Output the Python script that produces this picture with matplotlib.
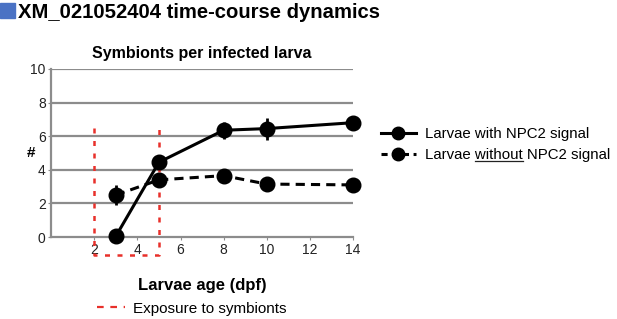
import matplotlib.pyplot as plt
from matplotlib.lines import Line2D
from matplotlib.patches import Rectangle

plt.rcParams['font.family'] = ['Liberation Sans', 'DejaVu Sans']

age = [3, 5, 8, 10, 14]
with_npc2 = [0.05, 4.45, 6.35, 6.45, 6.8]
with_err = [0.15, 0.2, 0.5, 0.65, 0.2]
without_npc2 = [2.5, 3.4, 3.65, 3.15, 3.1]
without_err = [0.6, 0.2, 0.2, 0.2, 0.4]
exposure_x = [2, 2, 5, 5]
exposure_y = [6.5, -1.07, -1.07, 6.5]
xticks = [2, 4, 6, 8, 10, 12, 14]
yticks = [0, 2, 4, 6, 8, 10]

fig = plt.figure(figsize=(6.17, 3.19), dpi=100)
ax = fig.add_axes([0.083, 0.257, 0.489, 0.527])

for y in yticks[1:]:
    ax.axhline(y, color='#8c8c8c', lw=1.6, zorder=1)

ax.plot(exposure_x, exposure_y, color='#e8302a', lw=1.8, ls=(0, (2, 3)),
        clip_on=False, zorder=2)

ax.errorbar(age, with_npc2, yerr=with_err, color='black', lw=2.2, marker='o',
            ms=10.5, elinewidth=2, capsize=0, zorder=4, clip_on=False)
ax.errorbar(age, without_npc2, yerr=without_err, color='black', lw=2.2, ls=(0, (3, 2)),
            marker='o', ms=10.5, elinewidth=2, capsize=0, zorder=3, clip_on=False)

ax.set_xlim(0, 14)
ax.set_ylim(0, 10)
ax.set_xticks(xticks)
ax.set_yticks(yticks)
ax.tick_params(labelsize=10, colors='#8c8c8c', labelcolor='#222222', length=2, pad=2)
for s in ['top', 'right']:
    ax.spines[s].set_visible(False)
for s in ['left', 'bottom']:
    ax.spines[s].set_color('#8c8c8c')
    ax.spines[s].set_linewidth(1.6)

ax.set_title('Symbionts per infected larva', fontsize=11.5, fontweight='bold', pad=8)
ax.set_ylabel('#', fontsize=11, fontweight='bold', rotation=0, ha='center', va='center')
ax.yaxis.set_label_coords(-0.066, 0.5)
ax.set_xlabel('Larvae age (dpf)', fontsize=12, fontweight='bold')
ax.xaxis.set_label_coords(0.5, -0.245)

fig.patches.append(Rectangle((0.0, 0.944), 0.024, 0.047, transform=fig.transFigure,
                             color='#4a72c4'))
fig.text(0.029, 0.962, 'XM_021052404 time-course dynamics', fontsize=14.6,
         fontweight='bold', va='center', ha='left')

handles = [
    Line2D([], [], color='black', lw=2.2, marker='o', ms=9),
    Line2D([], [], color='black', lw=2.2, ls=(0, (2, 1.5)), marker='o', ms=9),
]
labels = ['Larvae with NPC2 signal', 'Larvae without NPC2 signal']
leg = fig.legend(handles, labels, loc='center left', bbox_to_anchor=(0.595, 0.547),
                 frameon=False, fontsize=10.8, handlelength=2.35, handletextpad=0.6,
                 labelspacing=0.5)

fig.legend([Line2D([], [], color='#e8302a', lw=1.6, ls=(0, (3, 3)))],
           ['Exposure to symbionts'], loc='center left',
           bbox_to_anchor=(0.135, 0.032), frameon=False, fontsize=11,
           handlelength=1.8, handletextpad=0.55)

# underline the word "without" in the second legend entry
fig.canvas.draw()
renderer = fig.canvas.get_renderer()
txt = leg.get_texts()[1]
bb = txt.get_window_extent(renderer)
probe = fig.text(0, 0, 'Larvae ', fontsize=10.8)
w0 = probe.get_window_extent(renderer).width
probe.set_text('Larvae without')
w1 = probe.get_window_extent(renderer).width
probe.remove()
fw, fh = fig.bbox.width, fig.bbox.height
uy = (bb.y0 + 1) / fh
fig.add_artist(Line2D([(bb.x0 + w0) / fw, (bb.x0 + w1) / fw], [uy, uy],
                      transform=fig.transFigure, color='#222222', lw=0.9))

fig.savefig('out.png', dpi=100)
